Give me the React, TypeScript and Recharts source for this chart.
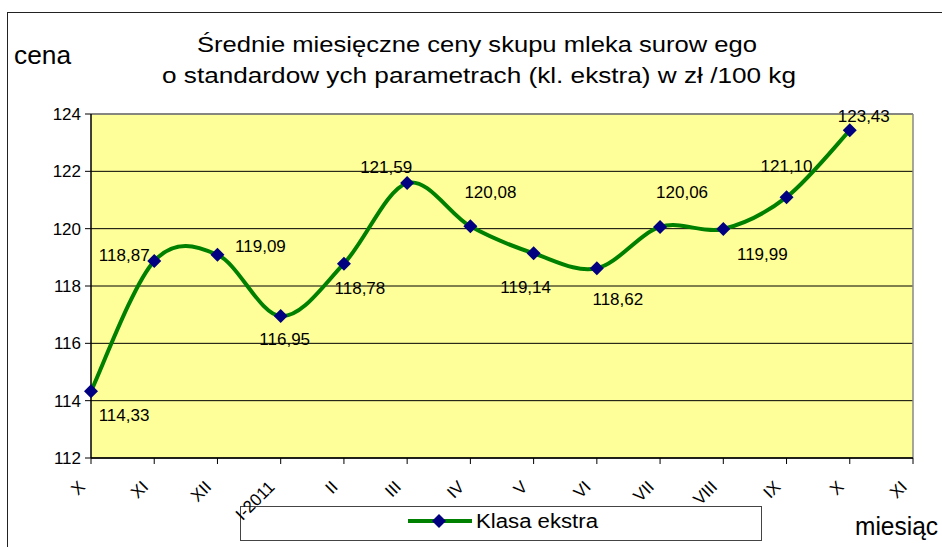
import React from "react"
import { LineChart, Line, XAxis, YAxis, CartesianGrid, LabelList, ReferenceLine } from "recharts"

const FONT = "Arial, 'Liberation Sans', sans-serif"

const months = ["X", "XI", "XII", "I-2011", "II", "III", "IV", "V", "VI", "VII", "VIII", "IX", "X", "XI"]
const klasaEkstra: (number | null)[] = [
  114.33, 118.87, 119.09, 116.95, 118.78, 121.59, 120.08, 119.14, 118.62, 120.06, 119.99, 121.1, 123.43, null,
]
const yTicks = [112, 114, 116, 118, 120, 122, 124]

// where each value label sits relative to its point (dx, dy)
const labelOffsets: [number, number][] = [
  [33, 24], [-30, -6], [43, -8], [4, 23], [16, 25], [-21, -16], [20, -34],
  [-8, 34], [21, 31], [22, -34], [39, 26], [0, -31], [14, -14],
]

const data = months.map((m, i) => ({ i, month: m, value: klasaEkstra[i] }))

// smoothing like Excel's "smoothed line" (Catmull-Rom through the points)
const excelSmooth = (context: any) => {
  let pts: number[][] = []
  return {
    areaStart() {},
    areaEnd() {},
    lineStart() {
      pts = []
    },
    point(x: number, y: number) {
      pts.push([+x, +y])
    },
    lineEnd() {
      if (!pts.length) return
      context.moveTo(pts[0][0], pts[0][1])
      for (let k = 0; k < pts.length - 1; k++) {
        const p0 = pts[k - 1] || pts[k]
        const p1 = pts[k]
        const p2 = pts[k + 1]
        const p3 = pts[k + 2] || p2
        context.bezierCurveTo(
          p1[0] + (p2[0] - p0[0]) / 6,
          p1[1] + (p2[1] - p0[1]) / 6,
          p2[0] - (p3[0] - p1[0]) / 6,
          p2[1] - (p3[1] - p1[1]) / 6,
          p2[0],
          p2[1]
        )
      }
    },
  }
}

const Diamond = (props: any) => {
  const { cx, cy, value, index } = props
  if (cx == null || cy == null || value == null) return <g key={index} />
  const r = 7
  return <path key={index} d={`M${cx},${cy - r}L${cx + r},${cy}L${cx},${cy + r}L${cx - r},${cy}Z`} fill="#000080" />
}

const ValueLabel = (props: any) => {
  const { x, y, value, index } = props
  if (value == null || x == null) return null
  const [dx, dy] = labelOffsets[index] || [0, -20]
  return (
    <text x={x + dx} y={y + dy} textAnchor="middle" dominantBaseline="central" fontSize={17} fontFamily={FONT} fill="#000">
      {Number(value).toFixed(2).replace(".", ",")}
    </text>
  )
}

const MonthTick = ({ x, y, payload }: any) => {
  const tx = x - 5
  const ty = y + 22
  return (
    <text x={tx} y={ty} transform={`rotate(-45, ${tx}, ${ty})`} textAnchor="end" fontSize={17} fontFamily={FONT} fill="#000">
      {months[payload.value]}
    </text>
  )
}

export default function App() {
  return (
    <div style={{ position: "absolute", left: 0, top: 0, width: 942, height: 547, overflow: "hidden", background: "#fff" }}>
      <div style={{ position: "absolute", left: 7, top: 12, width: 960, height: 600, border: "1px solid #222" }} />
      <svg width={942} height={547} style={{ position: "absolute", left: 0, top: 0 }}>
        <g fontFamily={FONT} fill="#000" style={{ whiteSpace: "pre" }}>
          <text x={477} y={52} fontSize={22} textAnchor="middle" textLength={560} lengthAdjust="spacingAndGlyphs">
            {"Średnie miesięczne ceny skupu mleka surow ego"}
          </text>
          <text x={479} y={83} fontSize={22} textAnchor="middle" textLength={634} lengthAdjust="spacingAndGlyphs">
            {"o standardow ych parametrach (kl. ekstra) w  zł /100 kg"}
          </text>
          <text x={14} y={64} fontSize={25} textLength={57} lengthAdjust="spacingAndGlyphs">
            cena
          </text>
          <text x={855} y={535} fontSize={25} textLength={83} lengthAdjust="spacingAndGlyphs">
            miesiąc
          </text>
        </g>
        <rect x={240.5} y={506.5} width={521} height={34} fill="#fff" stroke="#444" />
        <line x1={408} y1={521} x2={472} y2={521} stroke="#008000" strokeWidth={4} />
        <path d="M439,514L446,521L439,528L432,521Z" fill="#000080" />
        <text x={476} y={528} fontSize={20} fontFamily={FONT} fill="#000" textLength={122} lengthAdjust="spacingAndGlyphs">
          Klasa ekstra
        </text>
      </svg>
      <div style={{ position: "absolute", left: 0, top: 0 }}>
        <LineChart width={942} height={547} data={data} margin={{ top: 114, right: 29, left: 31, bottom: 39 }}>
          <CartesianGrid vertical={false} stroke="#000" fill="#FFFF99" fillOpacity={1} />
          <ReferenceLine y={124} stroke="#888" strokeWidth={1.5} />
          <ReferenceLine x={13} stroke="#888" strokeWidth={1.5} />
          <XAxis
            dataKey="i"
            type="category"
            scale="point"
            padding={{ left: 0, right: 0 }}
            interval={0}
            height={50}
            tickSize={6}
            tick={<MonthTick />}
            axisLine={{ stroke: "#000", strokeWidth: 1.5 }}
            tickLine={{ stroke: "#000" }}
          />
          <YAxis
            domain={[112, 124]}
            ticks={yTicks}
            width={60}
            tickSize={6}
            tickMargin={4}
            tick={{ fontSize: 17, fill: "#000", fontFamily: FONT }}
            axisLine={{ stroke: "#000", strokeWidth: 1.5 }}
            tickLine={{ stroke: "#000" }}
          />
          <Line
            dataKey="value"
            type={excelSmooth as any}
            stroke="#008000"
            strokeWidth={4}
            dot={Diamond}
            activeDot={false}
            isAnimationActive={false}
          >
            <LabelList dataKey="value" content={ValueLabel} />
          </Line>
        </LineChart>
      </div>
    </div>
  )
}
